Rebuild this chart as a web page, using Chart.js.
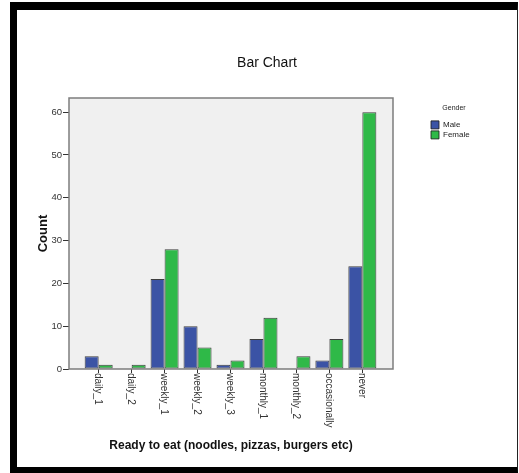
<!DOCTYPE html>
<html>
<head>
<meta charset="utf-8">
<script src="https://cdn.jsdelivr.net/npm/chart.js@4"></script>
<style>
  body { margin: 0; background: #fff; }
  #frame {
    position: absolute; left: 10px; top: 2px;
    width: 500px; height: 457px;
    border-left: 7px solid #000; border-top: 8px solid #000;
    border-bottom: 6px solid #000; border-right: 1px solid #222;
  }
  #wrap { position: relative; width: 500px; height: 457px; }
</style>
</head>
<body>
<div id="frame"><div id="wrap"><canvas id="barChart"></canvas></div></div>
<script>
const categories = ["daily_1", "daily_2", "weekly_1", "weekly_2", "weekly_3", "monthly_1", "monthly_2", "occasionally", "never"];
const maleCounts = [3, 0, 21, 10, 1, 7, 0, 2, 24];
const femaleCounts = [1, 1, 28, 5, 2, 12, 3, 7, 60];

const FONT = '"Liberation Sans", Arial, sans-serif';

// grey plot box behind the bars, outline on top
const plotBox = {
  id: "plotBox",
  beforeDatasetsDraw(chart) {
    const { ctx, chartArea: a } = chart;
    ctx.save();
    ctx.fillStyle = "#f0f0f0";
    ctx.fillRect(a.left, a.top, a.right - a.left, a.bottom - a.top);
    ctx.restore();
  },
  afterDatasetsDraw(chart) {
    const { ctx, chartArea: a } = chart;
    ctx.save();
    ctx.strokeStyle = "#7d7d7d";
    ctx.lineWidth = 1.5;
    ctx.strokeRect(a.left, a.top, a.right - a.left, a.bottom - a.top);
    ctx.restore();
  }
};

// category names written downwards under each tick
const xLabels = {
  id: "xLabels",
  afterDraw(chart) {
    const { ctx, chartArea, scales } = chart;
    ctx.save();
    ctx.font = "10px " + FONT;
    ctx.fillStyle = "#333";
    ctx.textAlign = "left";
    ctx.textBaseline = "middle";
    categories.forEach((label, i) => {
      ctx.save();
      ctx.translate(scales.x.getPixelForValue(i) - 1, chartArea.bottom + 4);
      ctx.rotate(Math.PI / 2);
      ctx.fillText(label, 0, 0);
      ctx.restore();
    });
    ctx.restore();
  }
};

const toPoints = arr => arr.map((v, i) => ({ x: i, y: v }));

new Chart(document.getElementById("barChart"), {
  type: "bar",
  data: {
    datasets: [
      {
        label: "Male",
        data: toPoints(maleCounts),
        backgroundColor: "rgb(59,83,165)",
        borderColor: "rgba(30,30,30,0.85)",
        borderWidth: 1,
        borderSkipped: false
      },
      {
        label: "Female",
        data: toPoints(femaleCounts),
        backgroundColor: "rgb(47,185,72)",
        borderColor: "rgba(30,30,30,0.85)",
        borderWidth: 1,
        borderSkipped: false
      }
    ]
  },
  options: {
    responsive: true,
    maintainAspectRatio: false,
    animation: false,
    layout: { padding: 0 },
    categoryPercentage: 0.85,
    barPercentage: 1,
    scales: {
      x: {
        type: "linear",
        offset: false,
        min: -0.9,
        max: 8.93,
        ticks: { stepSize: 1, includeBounds: false, display: false },
        grid: { drawOnChartArea: false, offset: false, tickLength: 4, color: "#333" },
        border: { display: false },
        title: {
          display: true,
          text: "Ready to eat (noodles, pizzas, burgers etc)",
          color: "#111",
          font: { family: FONT, size: 12, weight: "bold" },
          padding: { top: 0, bottom: 14 }
        },
        afterFit(s) { s.height = 98; }
      },
      y: {
        min: 0,
        max: 63.3,
        ticks: {
          stepSize: 10, includeBounds: false, padding: 1,
          color: "#333", font: { family: FONT, size: 9.5 }
        },
        grid: { drawOnChartArea: false, tickLength: 6, color: "#333" },
        border: { display: false },
        title: {
          display: true,
          text: "Count",
          color: "#111",
          font: { family: FONT, size: 13, weight: "bold" },
          padding: { top: 19, bottom: 0 }
        },
        afterFit(s) { s.width = 52; }
      },
      gapInner: {
        type: "linear", position: "right", display: true,
        ticks: { display: false }, grid: { display: false }, border: { display: false },
        afterFit(s) { s.width = 36; }
      },
      gapOuter: {
        type: "linear", position: "right", display: true, weight: 2000,
        ticks: { display: false }, grid: { display: false }, border: { display: false },
        afterFit(s) { s.width = 38; }
      }
    },
    plugins: {
      tooltip: { enabled: false },
      title: {
        display: true,
        text: "Bar Chart",
        color: "#111",
        font: { family: FONT, size: 14, weight: "normal" },
        padding: { top: 45, bottom: 26.2 }
      },
      legend: {
        position: "right",
        align: "start",
        fullSize: false,
        maxWidth: 50,
        title: {
          display: true,
          text: "Gender",
          color: "#222",
          font: { family: FONT, size: 7 },
          padding: { top: 6.5, bottom: 6 }
        },
        labels: {
          boxWidth: 8,
          boxHeight: 8,
          padding: 2,
          color: "#222",
          font: { family: FONT, size: 8 }
        }
      }
    }
  },
  plugins: [plotBox, xLabels]
});
</script>
</body>
</html>
